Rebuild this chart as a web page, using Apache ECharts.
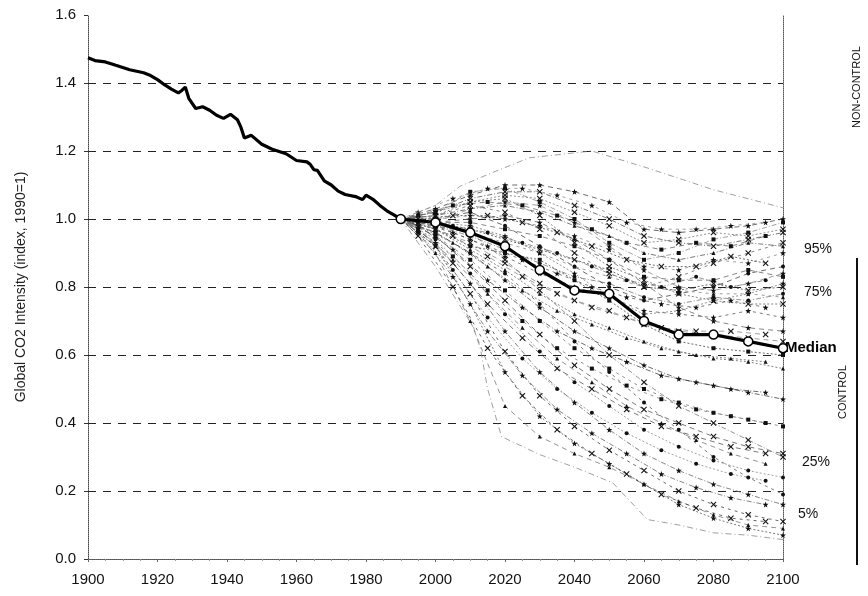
<!DOCTYPE html>
<html>
<head>
<meta charset="utf-8">
<script src="https://cdn.jsdelivr.net/npm/echarts@6/dist/echarts.min.js"></script>
<style>
  html, body { margin: 0; padding: 0; background: #fff; }
  #chart { width: 868px; height: 596px; }
</style>
</head>
<body>
<div id="chart"></div>
<script>
// historical global CO2 intensity, 1900-1990 (index, 1990 = 1)
const histYears = [1900, 1902, 1905, 1908, 1912, 1916, 1918, 1920, 1922, 1924, 1926, 1927, 1928, 1929, 1931,
  1933, 1935, 1937, 1939, 1941, 1943, 1944, 1945, 1947, 1950, 1953, 1957, 1960, 1963, 1964,
  1965, 1966, 1968, 1970, 1972, 1974, 1977, 1979, 1980, 1982, 1984, 1986, 1988, 1990]
const histValues = [1.474, 1.466, 1.462, 1.452, 1.439, 1.430, 1.422, 1.410, 1.395, 1.382, 1.371, 1.378, 1.388, 1.355, 1.325,
  1.330, 1.320, 1.305, 1.296, 1.308, 1.292, 1.270, 1.238, 1.246, 1.220, 1.205, 1.192, 1.172, 1.168, 1.160,
  1.145, 1.143, 1.112, 1.100, 1.082, 1.072, 1.066, 1.057, 1.070, 1.058, 1.040, 1.024, 1.012, 1.000]

// median of the scenarios
const decadeYears = [1990, 2000, 2010, 2020, 2030, 2040, 2050, 2060, 2070, 2080, 2090, 2100]
const medianValues = [1.0, 0.99, 0.96, 0.92, 0.85, 0.79, 0.78, 0.70, 0.66, 0.66, 0.64, 0.62]

// scenario runs on decade steps
const decadeRuns = [
  [1.0, 1.03, 1.07, 1.10, 1.10, 1.08, 1.05, 0.97, 0.96, 0.97, 0.98, 1.00],
  [1.0, 1.02, 1.05, 1.07, 1.06, 1.02, 0.98, 0.93, 0.94, 0.96, 0.95, 0.97],
  [1.0, 1.01, 1.03, 1.04, 1.02, 0.98, 0.95, 0.90, 0.88, 0.90, 0.93, 0.92],
  [1.0, 1.00, 1.01, 1.00, 0.98, 0.95, 0.91, 0.86, 0.85, 0.88, 0.87, 0.90],
  [1.0, 0.99, 0.99, 0.97, 0.95, 0.92, 0.88, 0.83, 0.82, 0.82, 0.85, 0.83],
  [1.0, 0.99, 0.97, 0.94, 0.91, 0.88, 0.85, 0.80, 0.79, 0.81, 0.79, 0.80],
  [1.0, 0.98, 0.95, 0.91, 0.87, 0.83, 0.81, 0.77, 0.75, 0.77, 0.76, 0.78],
  [1.0, 0.98, 0.94, 0.89, 0.84, 0.80, 0.77, 0.73, 0.72, 0.71, 0.73, 0.71],
  [1.0, 0.97, 0.93, 0.87, 0.81, 0.76, 0.73, 0.69, 0.67, 0.66, 0.65, 0.64],
  [1.0, 0.97, 0.91, 0.85, 0.78, 0.72, 0.68, 0.64, 0.61, 0.59, 0.58, 0.56],
  [1.0, 0.96, 0.90, 0.82, 0.74, 0.67, 0.62, 0.57, 0.53, 0.51, 0.49, 0.47],
  [1.0, 0.95, 0.88, 0.79, 0.70, 0.62, 0.56, 0.50, 0.46, 0.43, 0.41, 0.39],
  [1.0, 0.95, 0.86, 0.76, 0.66, 0.57, 0.50, 0.44, 0.40, 0.36, 0.33, 0.31],
  [1.0, 0.94, 0.84, 0.72, 0.61, 0.52, 0.45, 0.38, 0.33, 0.29, 0.26, 0.24],
  [1.0, 0.93, 0.81, 0.67, 0.55, 0.46, 0.38, 0.31, 0.26, 0.22, 0.19, 0.16],
  [1.0, 0.92, 0.78, 0.61, 0.48, 0.39, 0.32, 0.26, 0.20, 0.16, 0.13, 0.11],
  [1.0, 0.90, 0.70, 0.45, 0.36, 0.31, 0.27, 0.22, 0.17, 0.13, 0.10, 0.09],
  [1.0, 0.92, 0.75, 0.55, 0.42, 0.34, 0.28, 0.22, 0.16, 0.12, 0.09, 0.07],
  [1.0, 1.02, 1.08, 1.09, 1.05, 1.00, 0.93, 0.88, 0.90, 0.94, 0.96, 0.99],
  [1.0, 1.01, 1.04, 1.02, 0.97, 0.90, 0.84, 0.80, 0.83, 0.87, 0.90, 0.93],
  [1.0, 1.00, 1.02, 0.98, 0.92, 0.86, 0.80, 0.76, 0.78, 0.80, 0.84, 0.86],
  [1.0, 0.99, 0.98, 0.95, 0.90, 0.84, 0.77, 0.72, 0.73, 0.76, 0.78, 0.81],
  [1.0, 1.02, 1.06, 1.08, 1.08, 1.04, 1.00, 0.95, 0.93, 0.92, 0.94, 0.96],
  [1.0, 0.98, 0.96, 0.93, 0.90, 0.86, 0.83, 0.80, 0.79, 0.78, 0.78, 0.77],
  [1.0, 0.99, 1.00, 1.01, 0.99, 0.94, 0.88, 0.81, 0.74, 0.70, 0.68, 0.67],
  [1.0, 0.97, 0.92, 0.90, 0.88, 0.82, 0.76, 0.69, 0.64, 0.62, 0.61, 0.60],
  [1.0, 0.98, 0.96, 0.88, 0.79, 0.70, 0.60, 0.52, 0.45, 0.40, 0.35, 0.30],
  [1.0, 0.96, 0.90, 0.84, 0.75, 0.64, 0.55, 0.46, 0.38, 0.30, 0.24, 0.19],
  [1.0, 0.99, 1.03, 1.05, 1.04, 0.99, 0.92, 0.85, 0.80, 0.79, 0.81, 0.84],
  [1.0, 1.01, 1.05, 1.06, 1.01, 0.93, 0.86, 0.82, 0.78, 0.76, 0.75, 0.75]
]

// scenario runs reported on the half decades
const halfYears = [1990, 1995, 2005, 2015, 2025, 2035, 2045, 2055, 2065, 2075, 2085, 2095]
const halfRuns = [
  [1.0, 1.02, 1.06, 1.09, 1.09, 1.07, 1.04, 0.99, 0.97, 0.97, 0.98, 0.99],
  [1.0, 1.01, 1.04, 1.05, 1.04, 1.01, 0.97, 0.93, 0.91, 0.93, 0.92, 0.95],
  [1.0, 1.00, 1.01, 1.01, 0.99, 0.96, 0.92, 0.88, 0.86, 0.86, 0.89, 0.87],
  [1.0, 0.99, 0.98, 0.96, 0.93, 0.90, 0.86, 0.82, 0.80, 0.83, 0.80, 0.82],
  [1.0, 0.99, 0.96, 0.92, 0.88, 0.84, 0.80, 0.77, 0.75, 0.74, 0.76, 0.74],
  [1.0, 0.99, 0.95, 0.89, 0.83, 0.78, 0.74, 0.71, 0.68, 0.67, 0.67, 0.66],
  [1.0, 0.98, 0.93, 0.86, 0.79, 0.73, 0.69, 0.65, 0.62, 0.60, 0.59, 0.58],
  [1.0, 0.98, 0.91, 0.82, 0.74, 0.67, 0.62, 0.58, 0.54, 0.52, 0.50, 0.49],
  [1.0, 0.97, 0.89, 0.79, 0.70, 0.62, 0.56, 0.51, 0.47, 0.44, 0.42, 0.40],
  [1.0, 0.97, 0.87, 0.75, 0.65, 0.56, 0.50, 0.44, 0.39, 0.36, 0.33, 0.31],
  [1.0, 0.96, 0.85, 0.71, 0.59, 0.50, 0.43, 0.37, 0.32, 0.28, 0.25, 0.23],
  [1.0, 0.96, 0.83, 0.67, 0.54, 0.44, 0.37, 0.31, 0.25, 0.21, 0.18, 0.16],
  [1.0, 0.95, 0.80, 0.62, 0.48, 0.38, 0.31, 0.25, 0.19, 0.15, 0.12, 0.11],
  [1.0, 0.97, 0.88, 0.78, 0.68, 0.59, 0.52, 0.45, 0.40, 0.35, 0.31, 0.28]
]

// outer envelope of the scenarios
const upperYears = [1990, 2000, 2007, 2016, 2027, 2045, 2061, 2080, 2100]
const upperValues = [1.0, 1.04, 1.096, 1.135, 1.18, 1.2, 1.15, 1.086, 1.033]
const lowerYears = [1990, 2000, 2011, 2013, 2015, 2019, 2030, 2040, 2051, 2061, 2070, 2080, 2090, 2100]
const lowerValues = [1.0, 0.86, 0.68, 0.615, 0.5, 0.36, 0.307, 0.27, 0.224, 0.116, 0.10, 0.077, 0.07, 0.057]

const yTicks = [0, 0.2, 0.4, 0.6, 0.8, 1.0, 1.2, 1.4, 1.6]
const xTicks = [1900, 1920, 1940, 1960, 1980, 2000, 2020, 2040, 2060, 2080, 2100]

const STAR = 'path://M0,-5L1.2,-1.6L4.8,-1.6L1.9,0.6L2.9,4L0,2L-2.9,4L-1.9,0.6L-4.8,-1.6L-1.2,-1.6Z'
const CROSS = 'path://M-4,-3L-3,-4L0,-1L3,-4L4,-3L1,0L4,3L3,4L0,1L-3,4L-4,3L-1,0Z'
const symbols = [STAR, CROSS, 'triangle', STAR, 'rect', CROSS, 'circle']
const lineColors = ['#444', '#777', '#555', '#888', '#666']
const dashes = [[5, 4], [2, 2], [5, 2, 1, 2], [3, 4]]

const FONT = 'Liberation Sans, Arial, Helvetica, sans-serif'

let chart = echarts.init(document.getElementById('chart'), null, { renderer: 'canvas' })

// 把情景数据转成折线系列
function runSeries(years, runs, offset) {
  return runs.map((vals, i) => {
    let k = i + offset
    let sym = symbols[k % symbols.length]
    return {
      type: 'line',
      silent: true,
      z: 1,
      data: years.map((y, j) => [y, vals[j]]),
      symbol: sym,
      symbolSize: (sym === STAR || sym === CROSS) ? 6 : 4,
      itemStyle: { color: '#111' },
      lineStyle: { color: lineColors[k % lineColors.length], width: 0.8, type: dashes[k % dashes.length] }
    }
  })
}

let series = []
  .concat(runSeries(decadeYears, decadeRuns, 0))
  .concat(runSeries(halfYears, halfRuns, 3))

series.push({
  type: 'line', silent: true, z: 2, showSymbol: false,
  data: upperYears.map((y, i) => [y, upperValues[i]]),
  lineStyle: { color: '#888', width: 0.8, type: [6, 3, 1, 3] }
})
series.push({
  type: 'line', silent: true, z: 2, showSymbol: false,
  data: lowerYears.map((y, i) => [y, lowerValues[i]]),
  lineStyle: { color: '#888', width: 0.8, type: [6, 3, 1, 3] }
})
series.push({
  type: 'line', silent: true, z: 5, showSymbol: false,
  data: histYears.map((y, i) => [y, histValues[i]]),
  lineStyle: { color: '#000', width: 3.2 }
})
series.push({
  type: 'line', silent: true, z: 6,
  data: decadeYears.map((y, i) => [y, medianValues[i]]),
  symbol: 'circle', symbolSize: 9,
  itemStyle: { color: '#fff', borderColor: '#000', borderWidth: 1.5 },
  lineStyle: { color: '#000', width: 3.2 }
})

let option = {
  animation: false,
  backgroundColor: '#fff',
  textStyle: { fontFamily: FONT },
  grid: { left: 88, right: 85, top: 15, bottom: 37 },
  xAxis: [{
    type: 'value', min: 1900, max: 2100, interval: 20,
    axisLine: { lineStyle: { color: '#444', type: 'dotted', width: 1 } },
    axisTick: { show: true, length: 3, inside: false, lineStyle: { color: '#666' } },
    minorTick: { show: true, splitNumber: 4, length: 2, lineStyle: { color: '#999' } },
    axisLabel: { color: '#111', fontSize: 15, margin: 13, formatter: v => xTicks.includes(v) ? String(v) : '' },
    splitLine: { show: false }
  }, {
    type: 'value', min: 1900, max: 2100, position: 'top',
    axisLine: { show: true, lineStyle: { color: '#555', type: 'dotted' } },
    axisTick: { show: false }, axisLabel: { show: false }, splitLine: { show: false }
  }],
  yAxis: [{
    type: 'value', min: 0, max: 1.6, interval: 0.2,
    name: 'Global CO2 Intensity (index, 1990=1)',
    nameLocation: 'middle', nameGap: 60,
    nameTextStyle: { fontSize: 14, color: '#222' },
    axisLine: { show: true, lineStyle: { color: '#444', type: 'dotted' } },
    axisTick: { show: true, length: 4, lineStyle: { color: '#333' } },
    axisLabel: { color: '#111', fontSize: 15, margin: 12, formatter: v => yTicks.includes(+v.toFixed(1)) ? v.toFixed(1) : '' },
    splitLine: { show: true, showMinLine: false, showMaxLine: false, lineStyle: { color: '#222', width: 1, type: [8, 7] } }
  }, {
    type: 'value', min: 0, max: 1.6, position: 'right',
    axisLine: { show: true, lineStyle: { color: '#555', type: 'dotted' } },
    axisTick: { show: false }, axisLabel: { show: false }, splitLine: { show: false }
  }],
  series: series,
  graphic: [
    { type: 'text', left: 804, top: 242, style: { text: '95%', font: '14px ' + FONT, fill: '#111' } },
    { type: 'text', left: 804, top: 285, style: { text: '75%', font: '14px ' + FONT, fill: '#111' } },
    { type: 'text', left: 785, top: 340, style: { text: 'Median', font: 'bold 15px ' + FONT, fill: '#000' } },
    { type: 'text', left: 802, top: 455, style: { text: '25%', font: '14px ' + FONT, fill: '#111' } },
    { type: 'text', left: 798, top: 507, style: { text: '5%', font: '14px ' + FONT, fill: '#111' } },
    { type: 'text', x: 857, y: 87, rotation: Math.PI / 2,
      style: { text: 'NON-CONTROL', font: '11px ' + FONT, fill: '#111', textAlign: 'center', textVerticalAlign: 'middle' } },
    { type: 'text', x: 843, y: 392, rotation: Math.PI / 2,
      style: { text: 'CONTROL', font: '11px ' + FONT, fill: '#111', textAlign: 'center', textVerticalAlign: 'middle' } },
    { type: 'line', shape: { x1: 857, y1: 258, x2: 857, y2: 565 }, style: { stroke: '#111', lineWidth: 2 } }
  ]
}

chart.setOption(option)
</script>
</body>
</html>
